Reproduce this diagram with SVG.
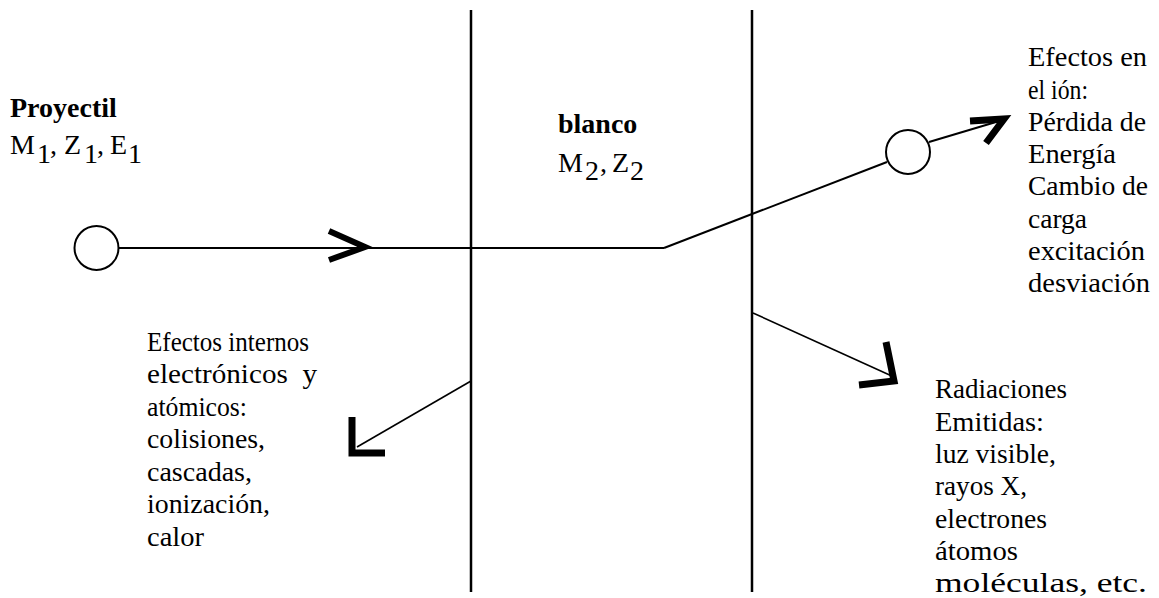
<svg xmlns="http://www.w3.org/2000/svg" width="1159" height="598" viewBox="0 0 1159 598">
<style>
text{font-family:"Liberation Serif","Times New Roman",serif;fill:#000}
.h{font-size:28px}
.b{font-size:27px}
.bold{font-weight:bold}
.ln{stroke:#000;fill:none}
.thin{stroke-width:1.6}
.mid{stroke-width:2}
.wall{stroke-width:2.5}
.head{stroke-width:7;stroke-linejoin:miter;stroke-linecap:butt}
</style>
<rect width="1159" height="598" fill="#fff"/>
<g id="walls">
<line class="ln wall" x1="471" y1="10" x2="471" y2="592"/>
<line class="ln wall" x1="752" y1="10" x2="752" y2="592"/>
</g>
<g id="connectors">
<line class="ln mid" x1="119" y1="248" x2="664" y2="248"/>
<polyline class="ln" style="stroke-width:6;stroke-linejoin:miter" points="329,231 365,247 329,260"/>
<line class="ln mid" x1="664" y1="248" x2="887" y2="162"/>
<line class="ln mid" x1="929" y1="142" x2="996" y2="122"/>
<polyline class="ln head" points="970,121 1004,119 986,143"/>
<line class="ln thin" x1="471" y1="381" x2="357" y2="447"/>
<polyline class="ln head" points="352,417 352,453 385,453"/>
<line class="ln thin" x1="753" y1="313" x2="894" y2="377"/>
<polyline class="ln head" points="886,342 894,381 859,385"/>
</g>
<g id="projectile">
<circle class="ln mid" cx="96.5" cy="248" r="22"/>
<text class="h bold" x="10" y="117">Proyectil</text>
<text class="h"><tspan x="10" y="154">M</tspan><tspan x="37" y="163">1</tspan><tspan x="50" y="154">,</tspan><tspan x="64" y="154">Z</tspan><tspan x="84" y="163">1</tspan><tspan x="97" y="154">,</tspan><tspan x="110" y="154">E</tspan><tspan x="128" y="163">1</tspan></text>
</g>
<g id="target">
<text class="h bold" x="558" y="133">blanco</text>
<text class="h"><tspan x="558" y="172">M</tspan><tspan x="585" y="180">2</tspan><tspan x="600" y="172">,</tspan><tspan x="612" y="172">Z</tspan><tspan x="630" y="180">2</tspan></text>
</g>
<g id="ion">
<circle class="ln mid" cx="908" cy="152" r="22"/>
<text class="b" x="1028" y="66" textLength="119" lengthAdjust="spacingAndGlyphs">Efectos en</text>
<text class="b" x="1028" y="98.5" textLength="60" lengthAdjust="spacingAndGlyphs">el ión:</text>
<text class="b" x="1028" y="130.5" textLength="118" lengthAdjust="spacingAndGlyphs">Pérdida de</text>
<text class="b" x="1028" y="163" textLength="88" lengthAdjust="spacingAndGlyphs">Energía</text>
<text class="b" x="1028" y="195" textLength="120" lengthAdjust="spacingAndGlyphs">Cambio de</text>
<text class="b" x="1028" y="227.5" textLength="59" lengthAdjust="spacingAndGlyphs">carga</text>
<text class="b" x="1028" y="259.5" textLength="117" lengthAdjust="spacingAndGlyphs">excitación</text>
<text class="b" x="1028" y="292" textLength="122" lengthAdjust="spacingAndGlyphs">desviación</text>
</g>
<g id="internal">
<text class="b" x="147" y="351" textLength="162" lengthAdjust="spacingAndGlyphs">Efectos internos</text>
<text class="b" x="147" y="383" textLength="170" lengthAdjust="spacingAndGlyphs" xml:space="preserve">electrónicos  y</text>
<text class="b" x="147" y="415.5" textLength="100" lengthAdjust="spacingAndGlyphs">atómicos:</text>
<text class="b" x="147" y="448" textLength="118" lengthAdjust="spacingAndGlyphs">colisiones,</text>
<text class="b" x="147" y="480.5" textLength="105" lengthAdjust="spacingAndGlyphs">cascadas,</text>
<text class="b" x="147" y="513" textLength="123" lengthAdjust="spacingAndGlyphs">ionización,</text>
<text class="b" x="147" y="545.5" textLength="57" lengthAdjust="spacingAndGlyphs">calor</text>
</g>
<g id="radiation">
<text class="b" x="935" y="398" textLength="132" lengthAdjust="spacingAndGlyphs">Radiaciones</text>
<text class="b" x="935" y="430.5" textLength="109" lengthAdjust="spacingAndGlyphs">Emitidas:</text>
<text class="b" x="935" y="463" textLength="121" lengthAdjust="spacingAndGlyphs">luz visible,</text>
<text class="b" x="935" y="495" textLength="92" lengthAdjust="spacingAndGlyphs">rayos X,</text>
<text class="b" x="935" y="527.5" textLength="112" lengthAdjust="spacingAndGlyphs">electrones</text>
<text class="b" x="935" y="560" textLength="83" lengthAdjust="spacingAndGlyphs">átomos</text>
<text class="b" x="935" y="592" textLength="212" lengthAdjust="spacingAndGlyphs">moléculas, etc.</text>
</g>
</svg>
